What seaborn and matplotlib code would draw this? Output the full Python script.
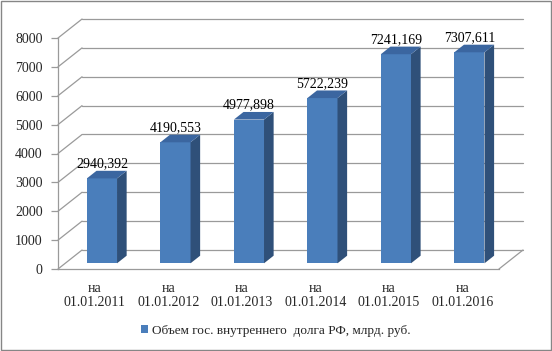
import pandas as pd
import seaborn as sns
import matplotlib
matplotlib.use("Agg")
import matplotlib.pyplot as plt
from matplotlib.patches import Polygon, Rectangle
from matplotlib.transforms import Affine2D

dates = ["01.01.2011", "01.01.2012", "01.01.2013", "01.01.2014", "01.01.2015", "01.01.2016"]
debt = [2940.392, 4190.553, 4977.898, 5722.239, 7241.169, 7307.611]
series_name = "Объем гос. внутреннего  долга РФ, млрд. руб."

df = pd.DataFrame({"date": dates, "debt": debt})

sns.set_theme(style="white")
plt.rcParams['font.family'] = ['Liberation Serif', 'DejaVu Serif']

front = "#4a7ebb"
side = "#2f5079"
top = "#3b66a0"
grid = "#9a9a9a"

# pseudo-3d geometry (depth offset of the back wall, in data units)
DX = 24 / 73.33
DY = 19 / 28.875 * 1000
f0, f1 = 0.3, 0.7

fig = plt.figure(figsize=(5.52, 3.51), dpi=100)
ax = fig.add_axes([58/552, (351-269)/351, (523-58)/552, (269-19)/351])

sns.barplot(data=df, x="date", y="debt", color=front, saturation=1,
            width=0.41, ax=ax, label=series_name, zorder=3)

n = len(dates)
# back wall and left wall grid
for v in range(0, 8001, 1000):
    ax.plot([-0.5 + DX, n - 0.5 + DX], [v + DY, v + DY], color=grid, lw=0.9, zorder=1, clip_on=False)
    ax.plot([-0.5, -0.5 + DX], [v, v + DY], color=grid, lw=0.9, zorder=1, clip_on=False)
# floor right edge
ax.plot([n - 0.5, n - 0.5 + DX], [0, DY], color=grid, lw=0.9, zorder=1, clip_on=False)

shift = Affine2D().translate(f0 * DX, f0 * DY) + ax.transData
d = f1 - f0
for p in ax.patches:
    x, w, h = p.get_x(), p.get_width(), p.get_height()
    p.set_transform(shift)
    p.set_edgecolor("none")
    ax.add_patch(Polygon([(x + w, 0), (x + w + d*DX, d*DY), (x + w + d*DX, h + d*DY), (x + w, h)],
                         closed=True, facecolor=side, edgecolor="none", transform=shift, zorder=3))
    ax.add_patch(Polygon([(x, h), (x + w, h), (x + w + d*DX, h + d*DY), (x + d*DX, h + d*DY)],
                         closed=True, facecolor=top, edgecolor="none", transform=shift, zorder=3))
    ax.annotate(f"{h:.3f}".replace(".", ","), (x + w/2 + f0*DX, h + f1*DY),
                xytext=(0, 0.5), textcoords="offset points", ha="center", va="bottom",
                fontsize=10, color="black", zorder=4)

ax.set_xlim(-0.5, n - 0.5 + DX)
ax.set_ylim(0, 8000 + DY)
ax.set_xlabel("")
ax.set_ylabel("")
ax.set_yticks(range(0, 8001, 1000))
ax.set_yticklabels([str(v) for v in range(0, 8001, 1000)], fontsize=10)
ax.set_xticks(range(n))
ax.set_xticklabels(["на\n" + s for s in dates], fontsize=10, linespacing=1.1)
ax.set_xticks([i - 0.5 for i in range(n + 1)], minor=True)
ax.tick_params(axis="x", which="major", length=0, pad=9)
ax.tick_params(axis="x", which="minor", length=5, width=0.9, color=grid, direction="out")
ax.tick_params(axis="y", length=5, width=0.9, color=grid, direction="out", pad=6, left=True)

for s in ["top", "right"]:
    ax.spines[s].set_visible(False)
ax.spines["left"].set_bounds(0, 8000)
ax.spines["bottom"].set_bounds(-0.5, n - 0.5)
for s in ["left", "bottom"]:
    ax.spines[s].set_color(grid)
    ax.spines[s].set_linewidth(0.9)
ax.patch.set_alpha(0)

ax.legend(loc="center", bbox_to_anchor=(0.5, 20/351), bbox_transform=fig.transFigure,
          frameon=False, fontsize=9.5, handlelength=0.55, handleheight=0.55, handletextpad=0.3)

fig.patches.append(Rectangle((0.001, 0.002), 0.997, 0.995, transform=fig.transFigure,
                             fill=False, edgecolor="#868686", lw=1))

fig.savefig("out.png", dpi=100)
